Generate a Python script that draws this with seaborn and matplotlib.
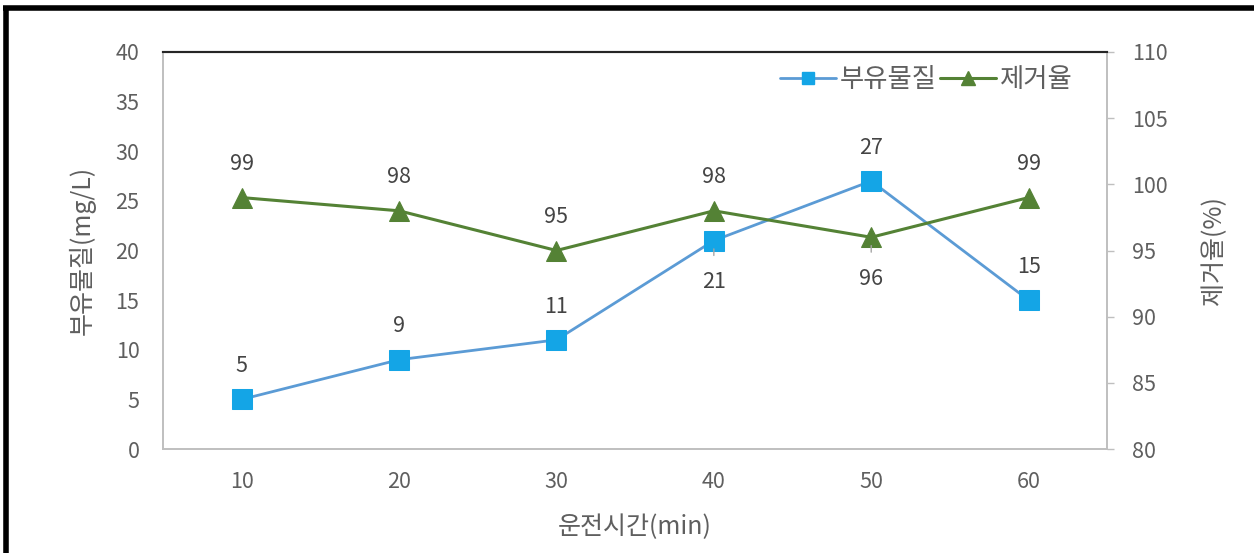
import matplotlib
matplotlib.use("Agg")
import matplotlib.pyplot as plt
from matplotlib.lines import Line2D
import seaborn as sns
import pandas as pd

# operating time (min) and measured values
times = ["10", "20", "30", "40", "50", "60"]
suspended_solids = [5, 9, 11, 21, 27, 15]        # mg/L
removal_rate = [99, 98, 95, 98, 96, 99]          # %

# where each data label sits relative to its point (+1 above, -1 below)
ss_label_side = [1, 1, 1, -1, 1, 1]
rr_label_side = [1, 1, 1, 1, -1, 1]

left_ticks = [0, 5, 10, 15, 20, 25, 30, 35, 40]
right_ticks = [80, 85, 90, 95, 100, 105, 110]

sns.set_theme(style="white")
plt.rcParams["font.family"] = ["Noto Sans CJK KR", "DejaVu Sans"]

BLUE_LINE = "#5B9BD5"
BLUE_MARK = "#14A5E6"
GREEN = "#548235"
GRAY_TXT = "#5F5F5F"
LABEL_TXT = "#444444"
SPINE = "#BFBFBF"

df = pd.DataFrame({"time": times, "ss": suspended_solids, "rr": removal_rate})

fig = plt.figure(figsize=(12.54, 5.53), dpi=100)
ax = fig.add_axes([0.130, 0.188, 0.753, 0.718])
ax2 = ax.twinx()

sns.lineplot(data=df, x="time", y="ss", ax=ax, color=BLUE_LINE, lw=2,
             marker="s", markersize=14, markerfacecolor=BLUE_MARK,
             markeredgecolor=BLUE_MARK, label="부유물질", legend=False)
sns.lineplot(data=df, x="time", y="rr", ax=ax2, color=GREEN, lw=2.2,
             marker="^", markersize=15, markerfacecolor=GREEN,
             markeredgecolor=GREEN, label="제거율", legend=False)

ax.set_xlim(-0.5, len(times) - 0.5)
ax.set_ylim(0, 40)
ax2.set_ylim(80, 110)
ax.set_yticks(left_ticks)
ax2.set_yticks(right_ticks)
ax.grid(False)
ax2.grid(False)

tick_font = 15.5
ax.tick_params(axis="y", length=0, pad=17, labelsize=tick_font, labelcolor=GRAY_TXT)
ax.tick_params(axis="x", length=0, pad=16, labelsize=tick_font, labelcolor=GRAY_TXT)
ax2.tick_params(axis="y", length=5, width=1, color=SPINE, direction="out",
                pad=13, labelsize=tick_font, labelcolor=GRAY_TXT, right=True)

ax.set_xlabel("운전시간(min)", fontsize=18, color=GRAY_TXT, labelpad=15)
ax.set_ylabel("부유물질(mg/L)", fontsize=18, color=GRAY_TXT, labelpad=14)
ax2.set_ylabel("제거율(%)", fontsize=18, color=GRAY_TXT, labelpad=24)

for a in (ax, ax2):
    for side in ("left", "right", "bottom"):
        a.spines[side].set_color(SPINE)
        a.spines[side].set_linewidth(1.2)
    a.spines["top"].set_color("#262626")
    a.spines["top"].set_linewidth(1.5)


def put_labels(axis, values, sides):
    for i, (v, s) in enumerate(zip(values, sides)):
        if s > 0:
            axis.annotate(f"{v}", xy=(i, v), xytext=(0, 24), textcoords="offset points",
                          ha="center", va="center", fontsize=tick_font, color=LABEL_TXT)
        else:
            axis.annotate(f"{v}", xy=(i, v), xytext=(0, -30), textcoords="offset points",
                          ha="center", va="center", fontsize=tick_font, color=LABEL_TXT,
                          arrowprops=dict(arrowstyle="-", color="#A6A6A6", lw=1,
                                          shrinkA=9, shrinkB=6))


put_labels(ax, suspended_solids, ss_label_side)
put_labels(ax2, removal_rate, rr_label_side)

handles = [
    Line2D([], [], color=BLUE_LINE, lw=2, marker="s", markersize=9,
           markerfacecolor=BLUE_MARK, markeredgecolor=BLUE_MARK),
    Line2D([], [], color=GREEN, lw=2.2, marker="^", markersize=10,
           markerfacecolor=GREEN, markeredgecolor=GREEN),
]
leg = ax2.legend(handles, ["부유물질", "제거율"], loc="upper right", ncol=2,
                 frameon=False, fontsize=19, handlelength=2.1, handletextpad=0.15,
                 columnspacing=0.15, bbox_to_anchor=(0.98, 1.005), borderaxespad=0.2)
for t in leg.get_texts():
    t.set_color(GRAY_TXT)

# dark frame along the left and top of the figure
fig.add_artist(Line2D([0.0045, 0.0045], [0.0, 0.985], transform=fig.transFigure,
                      color="black", lw=4, solid_capstyle="butt"))
fig.add_artist(Line2D([0.0025, 1.0], [0.985, 0.985], transform=fig.transFigure,
                      color="black", lw=4, solid_capstyle="butt"))

fig.savefig("out.png", dpi=100, facecolor="white")
